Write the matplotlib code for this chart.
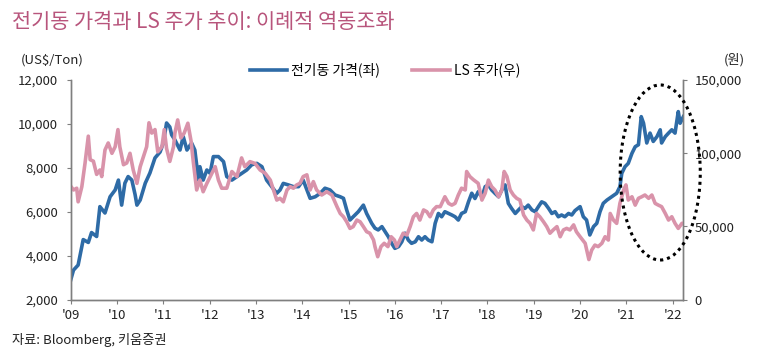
import matplotlib
matplotlib.use('agg')
import matplotlib.pyplot as plt
from matplotlib.patches import Ellipse
from matplotlib.ticker import FuncFormatter

plt.rcParams['font.family'] = ['Noto Sans CJK KR', 'DejaVu Sans']

# 전기동 가격 (US$/Ton), 좌축
cu_years = [2009.00, 2009.06, 2009.16, 2009.27, 2009.38, 2009.45, 2009.56, 2009.63, 2009.74, 2009.85,
            2009.96, 2010.03, 2010.10, 2010.17, 2010.24, 2010.32, 2010.39, 2010.43, 2010.50, 2010.61,
            2010.71, 2010.82, 2010.93, 2011.00, 2011.07, 2011.14, 2011.18, 2011.25, 2011.36, 2011.43,
            2011.51, 2011.61, 2011.68, 2011.76, 2011.79, 2011.86, 2011.94, 2012.01, 2012.08, 2012.19,
            2012.30, 2012.37, 2012.48, 2012.59, 2012.69, 2012.80, 2012.91, 2013.02, 2013.13, 2013.23,
            2013.34, 2013.45, 2013.52, 2013.59, 2013.70, 2013.81, 2013.92, 2014.02, 2014.10, 2014.17,
            2014.28, 2014.39, 2014.49, 2014.60, 2014.71, 2014.82, 2014.89, 2014.96, 2015.03, 2015.10,
            2015.21, 2015.32, 2015.39, 2015.50, 2015.57, 2015.64, 2015.72, 2015.79, 2015.86, 2015.93,
            2016.00, 2016.08, 2016.15, 2016.22, 2016.29, 2016.36, 2016.44, 2016.51, 2016.58, 2016.65,
            2016.72, 2016.80, 2016.87, 2016.94, 2017.01, 2017.08, 2017.16, 2017.23, 2017.30, 2017.37,
            2017.44, 2017.52, 2017.59, 2017.66, 2017.73, 2017.80, 2017.88, 2017.95, 2018.02, 2018.09,
            2018.16, 2018.24, 2018.31, 2018.38, 2018.45, 2018.52, 2018.60, 2018.67, 2018.74, 2018.81,
            2018.88, 2018.96, 2019.03, 2019.10, 2019.17, 2019.24, 2019.32, 2019.39, 2019.46, 2019.53,
            2019.60, 2019.67, 2019.75, 2019.82, 2019.89, 2020.00, 2020.07, 2020.14, 2020.21, 2020.29,
            2020.36, 2020.43, 2020.50, 2020.58, 2020.68, 2020.79, 2020.86, 2020.90, 2020.97, 2021.04,
            2021.12, 2021.19, 2021.26, 2021.32, 2021.37, 2021.44, 2021.51, 2021.58, 2021.66, 2021.73,
            2021.76, 2021.84, 2021.91, 2021.98, 2022.05, 2022.12, 2022.16, 2022.23]
cu_price = [2890, 3340, 3570, 4730, 4600, 5050, 4870, 6230, 5940, 6680,
            6990, 7440, 6300, 7300, 7600, 7440, 6780, 6300, 6530, 7300,
            7760, 8450, 8720, 9130, 10040, 9860, 9500, 9270, 8810, 9420,
            8810, 9130, 8810, 7440, 8050, 7440, 7900, 7750, 8510, 8510,
            8280, 7600, 7440, 7600, 7750, 7900, 8140, 8200, 8050, 7440,
            7140, 6840, 6990, 7290, 7220, 7140, 7140, 7440, 6990, 6610,
            6680, 6840, 7070, 6990, 6760, 6680, 6610, 6080, 5620, 5770,
            6000, 6300, 5920, 5470, 5250, 5170, 5320, 5090, 4860, 4560,
            4330, 4410, 4630, 5020, 4710, 4560, 4630, 4860, 4710, 4860,
            4710, 4630, 5470, 5920, 5770, 6000, 5920, 5850, 5770, 5620,
            5920, 6000, 6450, 6840, 6600, 6910, 6680, 7140, 7220, 6990,
            6840, 6680, 6990, 7220, 6380, 6150, 5920, 6080, 6230, 6150,
            6300, 6080, 6000, 6230, 6450, 6380, 6150, 5920, 6000, 5770,
            5850, 5770, 5920, 5850, 6050, 6230, 5770, 5620, 4940, 5320,
            5470, 6000, 6380, 6530, 6680, 6840, 7140, 7750, 8050, 8200,
            8660, 8960, 9050, 10330, 10030, 9130, 9580, 9200, 9420, 9730,
            9130, 9420, 9580, 9730, 9580, 10560, 10030, 10330]

# LS 주가 (원), 우축
ls_years = [2009.00, 2009.06, 2009.13, 2009.16, 2009.24, 2009.31, 2009.38, 2009.42, 2009.49, 2009.56,
            2009.63, 2009.67, 2009.74, 2009.81, 2009.89, 2009.96, 2010.02, 2010.06, 2010.14, 2010.21,
            2010.28, 2010.35, 2010.43, 2010.50, 2010.57, 2010.64, 2010.69, 2010.75, 2010.82, 2010.88,
            2010.97, 2011.02, 2011.07, 2011.14, 2011.22, 2011.25, 2011.31, 2011.38, 2011.45, 2011.53,
            2011.60, 2011.65, 2011.72, 2011.79, 2011.86, 2011.94, 2012.05, 2012.12, 2012.19, 2012.26,
            2012.37, 2012.48, 2012.59, 2012.69, 2012.76, 2012.87, 2012.98, 2013.09, 2013.20, 2013.31,
            2013.38, 2013.45, 2013.52, 2013.59, 2013.67, 2013.74, 2013.81, 2013.88, 2013.95, 2014.02,
            2014.10, 2014.17, 2014.24, 2014.31, 2014.42, 2014.53, 2014.64, 2014.75, 2014.82, 2014.89,
            2014.96, 2015.03, 2015.10, 2015.18, 2015.25, 2015.32, 2015.39, 2015.46, 2015.54, 2015.57,
            2015.63, 2015.70, 2015.77, 2015.85, 2015.92, 2015.99, 2016.04, 2016.11, 2016.18, 2016.26,
            2016.33, 2016.40, 2016.47, 2016.54, 2016.62, 2016.69, 2016.76, 2016.83, 2016.90, 2016.98,
            2017.08, 2017.16, 2017.23, 2017.30, 2017.37, 2017.44, 2017.52, 2017.55, 2017.62, 2017.70,
            2017.80, 2017.88, 2017.95, 2018.02, 2018.09, 2018.16, 2018.24, 2018.31, 2018.36, 2018.42,
            2018.49, 2018.56, 2018.63, 2018.70, 2018.78, 2018.85, 2018.92, 2018.99, 2019.06, 2019.13,
            2019.21, 2019.28, 2019.35, 2019.42, 2019.50, 2019.57, 2019.64, 2019.71, 2019.78, 2019.86,
            2019.92, 2020.00, 2020.11, 2020.19, 2020.25, 2020.32, 2020.39, 2020.47, 2020.54, 2020.61,
            2020.65, 2020.72, 2020.79, 2020.86, 2020.94, 2020.99, 2021.04, 2021.12, 2021.19, 2021.26,
            2021.33, 2021.40, 2021.48, 2021.55, 2021.62, 2021.69, 2021.76, 2021.84, 2021.91, 2021.98,
            2022.05, 2022.12, 2022.20, 2022.23]
ls_price = [77400, 74850, 76050, 66750, 77100, 93300, 111600, 95550, 94500, 85500,
            88500, 84000, 102150, 106950, 99900, 104400, 116100, 104400, 92100, 93300,
            99900, 88500, 79350, 90750, 97650, 104400, 120750, 113700, 116100, 100950,
            104400, 116100, 103200, 94350, 104400, 113700, 122700, 110400, 113700, 120450,
            108000, 93300, 74850, 81600, 73650, 79350, 86250, 90750, 81600, 76050,
            76050, 87450, 84000, 96750, 90750, 94200, 93000, 88500, 86250, 81600,
            74850, 67950, 69150, 66750, 74850, 77100, 76050, 78300, 79350, 84000,
            85200, 74850, 80550, 74850, 71400, 73650, 71400, 63450, 58800, 56550,
            53100, 48600, 49800, 54300, 53100, 49800, 46350, 45300, 40650, 36150,
            29250, 36150, 38400, 36150, 42900, 40650, 36150, 40650, 45300, 44100,
            49800, 56550, 58800, 54300, 61200, 60000, 56550, 61200, 63450, 63450,
            70200, 65700, 64500, 65700, 71400, 76050, 74850, 87450, 84000, 81750,
            79350, 67950, 72600, 81600, 77100, 74850, 70200, 74850, 87450, 84000,
            74850, 71400, 69150, 67950, 57750, 54300, 52050, 47550, 58800, 56550,
            53100, 49800, 45300, 47550, 49800, 42900, 47550, 48600, 47550, 51000,
            46350, 42900, 38400, 27300, 33750, 37200, 36150, 38400, 42900, 40650,
            58800, 54300, 52050, 65700, 74850, 78300, 67950, 70200, 64500, 69150,
            70200, 71400, 69150, 71400, 65700, 64500, 63450, 58800, 54300, 56550,
            52050, 48600, 52050, 52050]

year_ticks = list(range(2009, 2023))
year_labels = ["'09", "'10", "'11", "'12", "'13", "'14", "'15", "'16", "'17", "'18", "'19", "'20", "'21", "'22"]
left_ticks = [2000, 4000, 6000, 8000, 10000, 12000]
right_ticks = [0, 50000, 100000, 150000]

blue = '#2E6BA6'
pink = '#D993AA'
spine_col = '#7F7F7F'

fig = plt.figure(figsize=(7.62, 3.57), dpi=100)
ax = fig.add_axes([0.0928, 0.161, 0.804, 0.615])
ax2 = ax.twinx()

l1, = ax.plot(cu_years, cu_price, color=blue, lw=2.6, solid_joinstyle='round')
l2, = ax2.plot(ls_years, ls_price, color=pink, lw=2.6, solid_joinstyle='round')

ax.set_xlim(2009.0, 2022.23)
ax.set_ylim(2000, 12000)
ax2.set_ylim(0, 150000)

ax.set_xticks(year_ticks)
ax.set_xticklabels(year_labels)
ax.set_yticks(left_ticks)
ax2.set_yticks(right_ticks)
fmt = FuncFormatter(lambda v, p: f'{int(v):,}')
ax.yaxis.set_major_formatter(fmt)
ax2.yaxis.set_major_formatter(fmt)

for a in (ax, ax2):
    a.spines['top'].set_visible(False)
    for s in ('left', 'right', 'bottom'):
        a.spines[s].set_color(spine_col)
        a.spines[s].set_linewidth(1)
    a.tick_params(axis='both', direction='out', length=3, width=0.8, color=spine_col,
                  labelsize=9.5, labelcolor='#222222')
ax.tick_params(axis='y', pad=6)
ax.tick_params(axis='x', pad=4)
ax2.tick_params(axis='y', pad=5)

# 점선 타원
ell = Ellipse((2021.73, 7786), 1.73, 7973, fill=False, edgecolor='black',
              linestyle=(0, (1, 1.3)), linewidth=2.2, clip_on=False, zorder=5)
ax2.add_patch(ell)
ell.set_transform(ax.transData)

fig.text(0.016, 0.937, '전기동 가격과 LS 주가 추이: 이례적 역동조화', fontsize=15,
         color='#B8557C', va='center', ha='left')
fig.text(0.027, 0.832, '(US$/Ton)', fontsize=9.5, va='center', ha='left', color='#222222')
fig.text(0.978, 0.832, '(원)', fontsize=9.5, va='center', ha='right', color='#222222')
fig.text(0.016, 0.048, '자료: Bloomberg, 키움증권', fontsize=9.5, va='center', ha='left', color='#222222')

fig.legend([l1, l2], ['전기동 가격(좌)', 'LS 주가(우)'], loc='center', bbox_to_anchor=(0.505, 0.804),
           ncol=2, frameon=False, fontsize=10, handlelength=2.7, handletextpad=0.3,
           columnspacing=2.3, borderpad=0)

fig.savefig('out.png', dpi=100)
